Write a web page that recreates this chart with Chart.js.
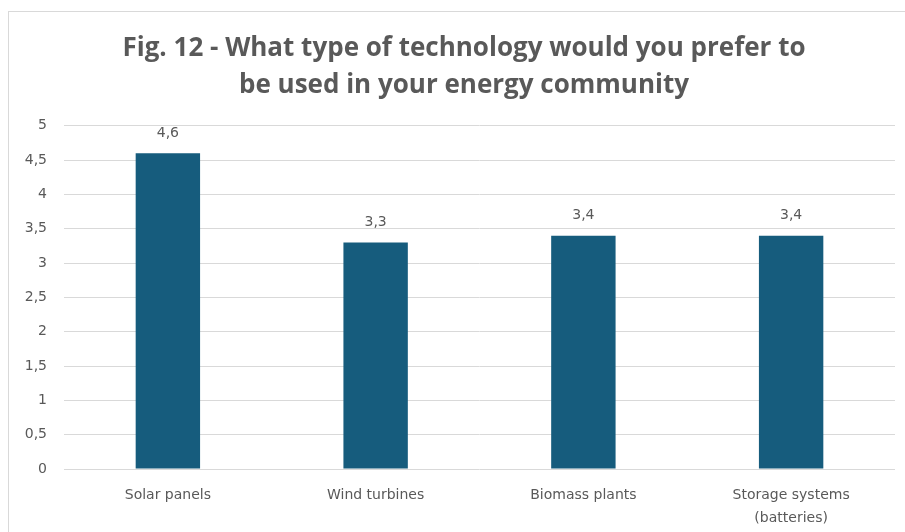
<!DOCTYPE html>
<html>
<head>
<meta charset="utf-8">
<script src="https://cdn.jsdelivr.net/npm/chart.js@4.4.1/dist/chart.umd.min.js"></script>
<style>
  html, body { margin: 0; padding: 0; background: #fff; overflow: hidden; }
  .frame {
    position: absolute; left: 8px; top: 11px;
    width: 910px; height: 521px;
    border-left: 1px solid #d9d9d9; border-top: 1px solid #d9d9d9;
  }
  canvas { display: block; }
</style>
</head>
<body>
<div class="frame"><canvas id="techChart" width="910" height="520"></canvas></div>
<script>
// Survey answers: preferred technology (average score)
const categories = ['Solar panels', 'Wind turbines', 'Biomass plants', ['Storage systems', '(batteries)']];
const scores = [4.6, 3.3, 3.4, 3.4];
const yTicks = [0, 0.5, 1, 1.5, 2, 2.5, 3, 3.5, 4, 4.5, 5];

const grey = '#595959';
const labelFont = '"DejaVu Sans", sans-serif';
const fmt = v => String(v).replace('.', ',');

// value labels above each bar
const barLabels = {
    id: 'barLabels',
    afterDatasetsDraw(chart) {
        const ctx = chart.ctx;
        const meta = chart.getDatasetMeta(0);
        ctx.save();
        ctx.font = '14px ' + labelFont;
        ctx.fillStyle = grey;
        ctx.textAlign = 'center';
        ctx.textBaseline = 'middle';
        meta.data.forEach((bar, i) => {
            ctx.fillText(fmt(scores[i]), bar.x, bar.y - 20);
        });
        ctx.restore();
    }
};

const ctx = document.getElementById('techChart').getContext('2d');
new Chart(ctx, {
    type: 'bar',
    data: {
        labels: categories,
        datasets: [{
            data: scores,
            backgroundColor: '#165c7d',
            categoryPercentage: 1,
            barPercentage: 0.31
        }]
    },
    options: {
        responsive: false,
        animation: false,
        layout: { padding: 0 },
        plugins: {
            legend: { display: false },
            tooltip: { enabled: false },
            title: {
                display: true,
                text: ['Fig. 12 - What type of technology would you prefer to', 'be used in your energy community'],
                color: grey,
                font: { family: '"Open Sans"', size: 26, weight: 'bold', lineHeight: 1.42 },
                padding: { top: 18, bottom: 22 }
            }
        },
        scales: {
            y: {
                min: 0,
                max: 5,
                afterBuildTicks: s => { s.ticks = yTicks.map(v => ({ value: v })); },
                afterFit: s => { s.width = 55; },
                border: { display: false },
                grid: { color: '#d9d9d9', lineWidth: 1, drawTicks: false },
                ticks: {
                    color: grey,
                    padding: 17,
                    font: { family: labelFont, size: 14 },
                    callback: v => fmt(v)
                }
            },
            // empty right-hand margin so the plot stops short of the frame edge
            gap: {
                type: 'linear',
                position: 'right',
                afterFit: s => { s.width = 24; },
                border: { display: false },
                grid: { display: false },
                ticks: { display: false }
            },
            x: {
                afterFit: s => { s.height = 63; },
                border: { display: false },
                grid: { display: false },
                ticks: {
                    color: grey,
                    padding: 7,
                    maxRotation: 0,
                    font: { family: labelFont, size: 14, lineHeight: 1.65 }
                }
            }
        }
    },
    plugins: [barLabels]
});
</script>
</body>
</html>
